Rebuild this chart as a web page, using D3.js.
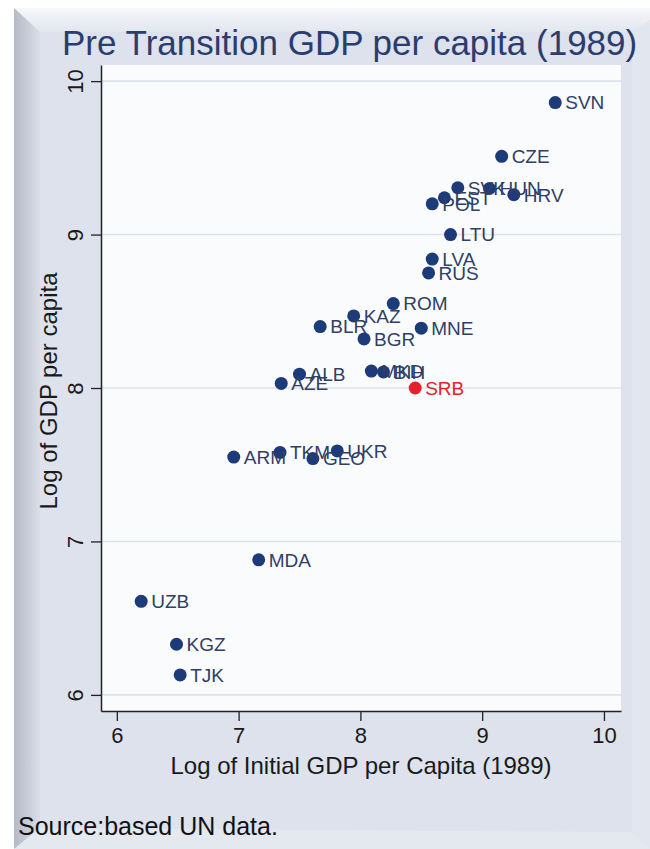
<!DOCTYPE html>
<html>
<head>
<meta charset="utf-8">
<script src="https://d3js.org/d3.v7.min.js"></script>
<style>
  body { margin: 0; background: #ffffff; }
  svg text { font-family: "Liberation Sans", Arial, sans-serif; }
</style>
</head>
<body>
<svg id="chart" width="650" height="849"></svg>
<script>
// country codes, log initial GDP (1989) and log GDP per capita
var countries = ["SVN","CZE","SVK","HUN","HRV","EST","POL","LTU","LVA","RUS","ROM","KAZ","BLR","BGR","MNE","MKD","BIH","SRB","ALB","AZE","ARM","TKM","GEO","UKR","MDA","UZB","KGZ","TJK"];
var initGdp   = [9.60, 9.16, 8.80, 9.06, 9.26, 8.69, 8.59, 8.74, 8.59, 8.56, 8.27, 7.945, 7.67, 8.03, 8.50, 8.09, 8.19, 8.45, 7.50, 7.35, 6.96, 7.34, 7.61, 7.81, 7.165, 6.20, 6.49, 6.52];
var logGdp    = [9.86, 9.51, 9.305, 9.30, 9.26, 9.24, 9.20, 9.00, 8.84, 8.75, 8.55, 8.47, 8.40, 8.32, 8.39, 8.11, 8.105, 8.00, 8.09, 8.03, 7.55, 7.58, 7.54, 7.59, 6.88, 6.61, 6.33, 6.13];
var highlight = ["SRB"];
var xTicks = [6, 7, 8, 9, 10];
var yTicks = [6, 7, 8, 9, 10];

var svg = d3.select("#chart");

// fond et cadre biseauté
var defs = svg.append("defs");
var gl = defs.append("linearGradient").attr("id", "gLeft").attr("x1", 0).attr("x2", 1).attr("y1", 0).attr("y2", 0);
gl.append("stop").attr("offset", "0%").attr("stop-color", "#b4bac6");
gl.append("stop").attr("offset", "100%").attr("stop-color", "#d9dee8");
var gt = defs.append("linearGradient").attr("id", "gTop").attr("x1", 0).attr("x2", 0).attr("y1", 0).attr("y2", 1);
gt.append("stop").attr("offset", "0%").attr("stop-color", "#f6f7fa");
gt.append("stop").attr("offset", "100%").attr("stop-color", "#e2e6ee");

svg.append("rect").attr("x", 14).attr("y", 8).attr("width", 650).attr("height", 841).attr("fill", "#dde2ec");
svg.append("polygon").attr("points", "14,8 664,8 642,32 40,32").attr("fill", "url(#gTop)");
svg.append("polygon").attr("points", "14,8 40,32 40,828 14,849").attr("fill", "url(#gLeft)");
svg.append("polygon").attr("points", "632,32 650,20 650,849 632,832").attr("fill", "#e2e6ee");
svg.append("polygon").attr("points", "40,828 632,832 650,849 14,849").attr("fill", "#e4e8ef");

// échelles
var x = d3.scaleLinear().domain([5.87, 10.14]).range([101, 621]);
var y = d3.scaleLinear().domain([5.895, 10.105]).range([711, 65]);

// zone du graphe
svg.append("rect")
  .attr("x", x.range()[0]).attr("y", y.range()[1])
  .attr("width", x.range()[1] - x.range()[0])
  .attr("height", y.range()[0] - y.range()[1])
  .attr("fill", "#fafbfd");

// lignes de grille
svg.append("g").selectAll("line")
  .data(yTicks).enter().append("line")
  .attr("x1", x.range()[0]).attr("x2", x.range()[1])
  .attr("y1", function(d){ return y(d); }).attr("y2", function(d){ return y(d); })
  .attr("stroke", "#dde3ed").attr("stroke-width", 1.6);

// axe des abscisses
var xAxis = svg.append("g")
  .attr("transform", "translate(0," + y.range()[0] + ")")
  .call(d3.axisBottom(x).tickValues(xTicks).tickSize(10).tickSizeOuter(0).tickPadding(6).tickFormat(d3.format("d")));
xAxis.select(".domain").attr("stroke", "#222").attr("stroke-width", 1.5);
xAxis.selectAll(".tick line").attr("stroke", "#222").attr("stroke-width", 1.3);
xAxis.selectAll("text").attr("font-size", 22).attr("fill", "#1a1a1a").attr("font-family", "Liberation Sans, Arial, sans-serif");

// axe des ordonnées (étiquettes tournées)
var yAxis = svg.append("g")
  .attr("transform", "translate(" + x.range()[0] + ",0)")
  .call(d3.axisLeft(y).tickValues(yTicks).tickSize(10).tickSizeOuter(0).tickFormat(d3.format("d")));
yAxis.select(".domain").attr("stroke", "#222").attr("stroke-width", 1.5);
yAxis.selectAll(".tick line").attr("stroke", "#222").attr("stroke-width", 1.3);
yAxis.selectAll("text")
  .attr("font-size", 22).attr("fill", "#1a1a1a").attr("font-family", "Liberation Sans, Arial, sans-serif")
  .attr("x", 0).attr("dy", 0)
  .attr("text-anchor", "middle")
  .attr("transform", "translate(-18,0) rotate(-90)");

// points et étiquettes
var data = countries.map(function(c, i){ return {code: c, x: initGdp[i], y: logGdp[i]}; });
function colorOf(d){ return highlight.indexOf(d.code) >= 0 ? "#e5222b" : "#1d3b78"; }

svg.append("g").selectAll("circle")
  .data(data).enter().append("circle")
  .attr("cx", function(d){ return x(d.x); })
  .attr("cy", function(d){ return y(d.y); })
  .attr("r", 6.5)
  .attr("fill", colorOf);

svg.append("g").selectAll("text")
  .data(data).enter().append("text")
  .attr("x", function(d){ return x(d.x) + 10; })
  .attr("y", function(d){ return y(d.y); })
  .attr("dy", "0.36em")
  .attr("font-size", 19)
  .attr("fill", function(d){ return highlight.indexOf(d.code) >= 0 ? "#e5222b" : "#2f3f66"; })
  .text(function(d){ return d.code; });

// titres
svg.append("text")
  .attr("x", 62).attr("y", 55)
  .attr("font-size", 35).attr("fill", "#2b3d6e")
  .text("Pre Transition GDP per capita (1989)");

svg.append("text")
  .attr("x", 361).attr("y", 774)
  .attr("text-anchor", "middle")
  .attr("font-size", 24).attr("fill", "#1a1a1a")
  .text("Log of Initial GDP per Capita (1989)");

svg.append("text")
  .attr("transform", "translate(57,391) rotate(-90)")
  .attr("text-anchor", "middle")
  .attr("font-size", 24).attr("fill", "#1a1a1a")
  .text("Log of GDP per capita");

svg.append("text")
  .attr("x", 18).attr("y", 835)
  .attr("font-size", 25).attr("fill", "#111")
  .text("Source:based UN data.");
</script>
</body>
</html>
